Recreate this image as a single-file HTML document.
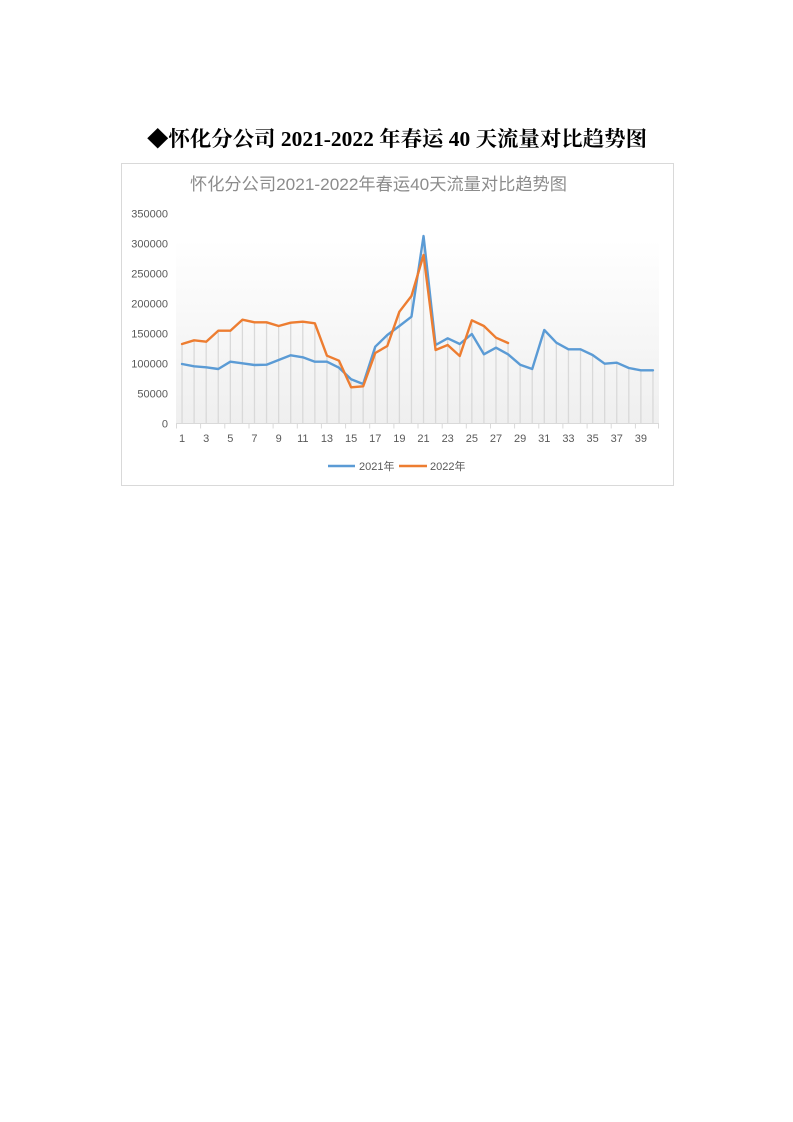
<!DOCTYPE html>
<html>
<head>
<meta charset="utf-8">
<style>
  html,body{margin:0;padding:0;background:#fff;}
  body{width:793px;height:1122px;position:relative;overflow:hidden;}
  svg{position:absolute;left:0;top:0;}
</style>
</head>
<body>
<svg width="793" height="1122" viewBox="0 0 793 1122" xmlns="http://www.w3.org/2000/svg">
  <defs>
    <linearGradient id="bg" x1="0" y1="0" x2="0" y2="1">
      <stop offset="0" stop-color="#ffffff"/>
      <stop offset="1" stop-color="#efefef"/>
    </linearGradient>
  </defs>

  <text x="147" y="146" font-family="'Liberation Serif','Noto Serif CJK SC',serif" font-weight="bold" font-size="21" fill="#000" textLength="500" lengthAdjust="spacingAndGlyphs">◆怀化分公司 2021-2022 年春运 40 天流量对比趋势图</text>

  <rect x="121.5" y="163.5" width="552" height="322" fill="#fff" stroke="#d9d9d9" stroke-width="1"/>

  <text x="190" y="190" font-family="'Liberation Sans','Noto Sans CJK SC',sans-serif" font-size="17" fill="#8c8c8c" textLength="377" lengthAdjust="spacingAndGlyphs">怀化分公司2021-2022年春运40天流量对比趋势图</text>

  <rect x="176" y="239" width="483" height="184.5" fill="url(#bg)"/>

  <g stroke="#d9d9d9" stroke-width="1.3">
    <line x1="182.04" y1="344" x2="182.04" y2="423.5"/>
    <line x1="194.11" y1="340.3" x2="194.11" y2="423.5"/>
    <line x1="206.19" y1="341.7" x2="206.19" y2="423.5"/>
    <line x1="218.26" y1="330.7" x2="218.26" y2="423.5"/>
    <line x1="230.34" y1="330.7" x2="230.34" y2="423.5"/>
    <line x1="242.41" y1="319.7" x2="242.41" y2="423.5"/>
    <line x1="254.49" y1="322.3" x2="254.49" y2="423.5"/>
    <line x1="266.56" y1="322.3" x2="266.56" y2="423.5"/>
    <line x1="278.64" y1="326" x2="278.64" y2="423.5"/>
    <line x1="290.71" y1="322.7" x2="290.71" y2="423.5"/>
    <line x1="302.79" y1="321.7" x2="302.79" y2="423.5"/>
    <line x1="314.86" y1="323.3" x2="314.86" y2="423.5"/>
    <line x1="326.94" y1="355.7" x2="326.94" y2="423.5"/>
    <line x1="339.01" y1="360.7" x2="339.01" y2="423.5"/>
    <line x1="351.09" y1="379.3" x2="351.09" y2="423.5"/>
    <line x1="363.16" y1="384" x2="363.16" y2="423.5"/>
    <line x1="375.24" y1="346.7" x2="375.24" y2="423.5"/>
    <line x1="387.31" y1="335" x2="387.31" y2="423.5"/>
    <line x1="399.39" y1="311.7" x2="399.39" y2="423.5"/>
    <line x1="411.46" y1="296" x2="411.46" y2="423.5"/>
    <line x1="423.54" y1="236" x2="423.54" y2="423.5"/>
    <line x1="435.61" y1="345" x2="435.61" y2="423.5"/>
    <line x1="447.69" y1="338.3" x2="447.69" y2="423.5"/>
    <line x1="459.76" y1="344" x2="459.76" y2="423.5"/>
    <line x1="471.84" y1="320.3" x2="471.84" y2="423.5"/>
    <line x1="483.91" y1="326" x2="483.91" y2="423.5"/>
    <line x1="495.99" y1="337.7" x2="495.99" y2="423.5"/>
    <line x1="508.06" y1="343" x2="508.06" y2="423.5"/>
    <line x1="520.14" y1="364.7" x2="520.14" y2="423.5"/>
    <line x1="532.21" y1="369" x2="532.21" y2="423.5"/>
    <line x1="544.29" y1="330" x2="544.29" y2="423.5"/>
    <line x1="556.36" y1="342.7" x2="556.36" y2="423.5"/>
    <line x1="568.44" y1="349.3" x2="568.44" y2="423.5"/>
    <line x1="580.51" y1="349.3" x2="580.51" y2="423.5"/>
    <line x1="592.59" y1="355" x2="592.59" y2="423.5"/>
    <line x1="604.66" y1="363.7" x2="604.66" y2="423.5"/>
    <line x1="616.74" y1="362.7" x2="616.74" y2="423.5"/>
    <line x1="628.81" y1="368" x2="628.81" y2="423.5"/>
    <line x1="640.89" y1="370.3" x2="640.89" y2="423.5"/>
    <line x1="652.96" y1="370.3" x2="652.96" y2="423.5"/>
  </g>

  <g stroke="#d9d9d9" stroke-width="1">
    <line x1="176" y1="423.5" x2="659" y2="423.5"/>
    <line x1="176.5" y1="423.5" x2="176.5" y2="428.5"/>
    <line x1="200.6" y1="423.5" x2="200.6" y2="428.5"/>
    <line x1="224.8" y1="423.5" x2="224.8" y2="428.5"/>
    <line x1="249" y1="423.5" x2="249" y2="428.5"/>
    <line x1="273.1" y1="423.5" x2="273.1" y2="428.5"/>
    <line x1="297.3" y1="423.5" x2="297.3" y2="428.5"/>
    <line x1="321.4" y1="423.5" x2="321.4" y2="428.5"/>
    <line x1="345.6" y1="423.5" x2="345.6" y2="428.5"/>
    <line x1="369.7" y1="423.5" x2="369.7" y2="428.5"/>
    <line x1="393.9" y1="423.5" x2="393.9" y2="428.5"/>
    <line x1="418" y1="423.5" x2="418" y2="428.5"/>
    <line x1="442.2" y1="423.5" x2="442.2" y2="428.5"/>
    <line x1="466.3" y1="423.5" x2="466.3" y2="428.5"/>
    <line x1="490.5" y1="423.5" x2="490.5" y2="428.5"/>
    <line x1="514.6" y1="423.5" x2="514.6" y2="428.5"/>
    <line x1="538.8" y1="423.5" x2="538.8" y2="428.5"/>
    <line x1="562.9" y1="423.5" x2="562.9" y2="428.5"/>
    <line x1="587.1" y1="423.5" x2="587.1" y2="428.5"/>
    <line x1="611.2" y1="423.5" x2="611.2" y2="428.5"/>
    <line x1="635.4" y1="423.5" x2="635.4" y2="428.5"/>
    <line x1="658.5" y1="423.5" x2="658.5" y2="428.5"/>
  </g>

  <g font-family="'Liberation Sans',sans-serif" font-size="11" fill="#595959" text-anchor="end">
    <text x="168" y="217.5">350000</text>
    <text x="168" y="247.5">300000</text>
    <text x="168" y="277.5">250000</text>
    <text x="168" y="307.5">200000</text>
    <text x="168" y="337.5">150000</text>
    <text x="168" y="367.5">100000</text>
    <text x="168" y="397.5">50000</text>
    <text x="168" y="427.5">0</text>
  </g>

  <g font-family="'Liberation Sans',sans-serif" font-size="11" fill="#595959" text-anchor="middle">
    <text x="182.04" y="442">1</text>
    <text x="206.19" y="442">3</text>
    <text x="230.34" y="442">5</text>
    <text x="254.49" y="442">7</text>
    <text x="278.64" y="442">9</text>
    <text x="302.79" y="442">11</text>
    <text x="326.94" y="442">13</text>
    <text x="351.09" y="442">15</text>
    <text x="375.24" y="442">17</text>
    <text x="399.39" y="442">19</text>
    <text x="423.54" y="442">21</text>
    <text x="447.69" y="442">23</text>
    <text x="471.84" y="442">25</text>
    <text x="495.99" y="442">27</text>
    <text x="520.14" y="442">29</text>
    <text x="544.29" y="442">31</text>
    <text x="568.44" y="442">33</text>
    <text x="592.59" y="442">35</text>
    <text x="616.74" y="442">37</text>
    <text x="640.89" y="442">39</text>
  </g>

  <polyline fill="none" stroke="#5b9bd5" stroke-width="2.4" stroke-linejoin="round" stroke-linecap="round"
    points="182.04,364 194.11,366.3 206.19,367.3 218.26,369 230.34,361.7 242.41,363.3 254.49,365 266.56,364.7 278.64,360 290.71,355.3 302.79,357.3 314.86,361.7 326.94,361.7 339.01,367.7 351.09,379.3 363.16,384 375.24,346.7 387.31,335 399.39,326 411.46,316.7 423.54,236 435.61,345 447.69,338.3 459.76,344 471.84,334 483.91,354.3 495.99,347.7 508.06,354.3 520.14,364.7 532.21,369 544.29,330 556.36,342.7 568.44,349.3 580.51,349.3 592.59,355 604.66,363.7 616.74,362.7 628.81,368 640.89,370.3 652.96,370.3"/>

  <polyline fill="none" stroke="#ed7d31" stroke-width="2.4" stroke-linejoin="round" stroke-linecap="round"
    points="182.04,344 194.11,340.3 206.19,341.7 218.26,330.7 230.34,330.7 242.41,319.7 254.49,322.3 266.56,322.3 278.64,326 290.71,322.7 302.79,321.7 314.86,323.3 326.94,355.7 339.01,360.7 351.09,387.3 363.16,386.3 375.24,353 387.31,346 399.39,311.7 411.46,296 423.54,255 435.61,350 447.69,345 459.76,356 471.84,320.3 483.91,326 495.99,337.7 508.06,343"/>

  <line x1="328" y1="466" x2="355" y2="466" stroke="#5b9bd5" stroke-width="2.4"/>
  <text x="359" y="470" font-family="'Liberation Sans','Noto Sans CJK SC',sans-serif" font-size="11" fill="#595959">2021年</text>
  <line x1="399" y1="466" x2="427" y2="466" stroke="#ed7d31" stroke-width="2.4"/>
  <text x="430" y="470" font-family="'Liberation Sans','Noto Sans CJK SC',sans-serif" font-size="11" fill="#595959">2022年</text>
</svg>
</body>
</html>
